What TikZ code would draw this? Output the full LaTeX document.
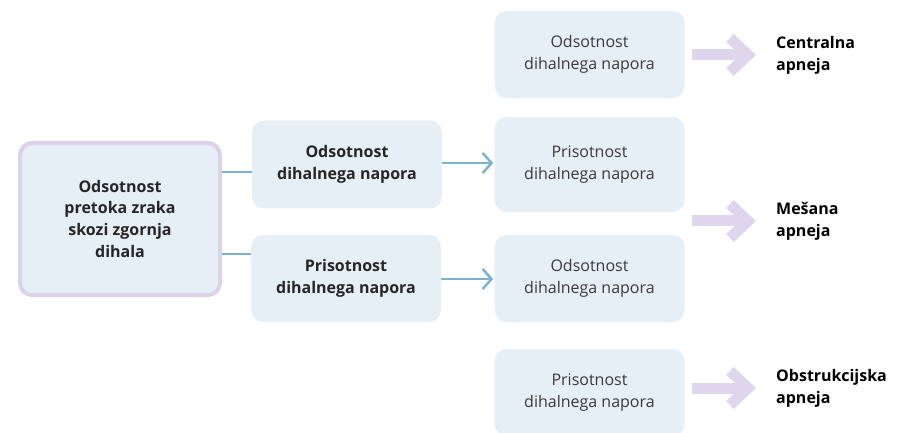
\documentclass[tikz,border=0pt]{standalone}
\usepackage{fontspec}
\setmainfont{Open Sans}
\usetikzlibrary{arrows.meta}

\definecolor{boxfill}{HTML}{E6EEF6}
\definecolor{mainrim}{HTML}{DCD3EA}
\definecolor{linkblue}{HTML}{7DB3CF}
\definecolor{bigpurple}{HTML}{DDD6EC}
\definecolor{textgray}{HTML}{3A3A3A}

\tikzset{
  box/.style={fill=boxfill, rounded corners=12pt, minimum width=190pt,
    align=center, font=\fontsize{16}{22}\selectfont, text=textgray, inner sep=0pt},
  keybox/.style={box, font=\fontsize{16}{22}\selectfont\bfseries, text=black!85},
  mainbox/.style={keybox, draw=mainrim, line width=4pt, minimum width=200pt, minimum height=152pt},
  result/.style={anchor=west, align=left, font=\fontsize{16}{22}\selectfont\bfseries, inner sep=0pt},
  link/.style={draw=linkblue, line width=2.5pt},
  linkarrow/.style={link, -{Straight Barb[length=9pt, width=20pt, line join=miter]}},
  bigarrow/.style={draw=bigpurple, line width=11pt,
    -{Straight Barb[length=18pt, width=34pt, line cap=butt, line join=miter]}}
}

\begin{document}
\begin{tikzpicture}[x=1pt, y=-1pt]
  \useasboundingbox (0,0) rectangle (906,433);

  % first column
  \node[mainbox] (main) at (120,219) {Odsotnost\\pretoka zraka\\skozi zgornja\\dihala};

  % second column
  \node[keybox, minimum height=88pt] (abs) at (347,164.5) {Odsotnost\\dihalnega napora};
  \node[keybox, minimum height=87pt] (pres) at (346,278.5) {Prisotnost\\dihalnega napora};

  % third column
  \node[box, minimum height=87pt] (r1) at (589.5,54.5) {Odsotnost\\dihalnega napora};
  \node[box, minimum height=95pt] (r2) at (589.5,164.5) {Prisotnost\\dihalnega napora};
  \node[box, minimum height=87pt] (r3) at (589.5,278.5) {Odsotnost\\dihalnega napora};
  \node[box, minimum height=87pt] (r4) at (589.5,392.5) {Prisotnost\\dihalnega napora};

  % results
  \node[result] (central) at (776,55) {Centralna\\apneja};
  \node[result] (mixed) at (776,221) {Mešana\\apneja};
  \node[result] (obstr) at (776,388) {Obstrukcijska\\apneja};

  % connectors
  \draw[link] (main.east |- 0,172) -- (abs.west |- 0,172);
  \draw[link] (main.east |- 0,254) -- (pres.west |- 0,254);
  \draw[linkarrow] (abs.east |- 0,163) -- ([xshift=-1pt]r2.west |- 0,163);
  \draw[linkarrow] (pres.east |- 0,279) -- ([xshift=-1pt]r3.west |- 0,279);

  % big arrows
  \coordinate (a1) at (692,55);
  \coordinate (a2) at (692,221);
  \coordinate (a3) at (692,388);
  \draw[bigarrow] (a1) -- ([xshift=-20pt]central.west);
  \draw[bigarrow] (a2) -- ([xshift=-20pt]mixed.west);
  \draw[bigarrow] (a3) -- ([xshift=-20pt]obstr.west);
\end{tikzpicture}
\end{document}
